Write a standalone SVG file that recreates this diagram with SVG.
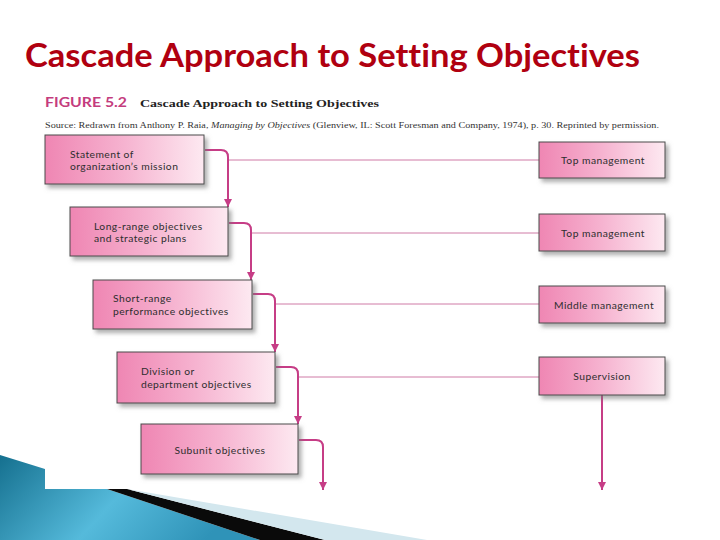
<svg xmlns="http://www.w3.org/2000/svg" width="720" height="540" viewBox="0 0 720 540">
<defs>
<linearGradient id="boxg" x1="0" y1="0" x2="1" y2="0">
<stop offset="0" stop-color="#ef86b3"/>
<stop offset="0.5" stop-color="#f6b3d0"/>
<stop offset="1" stop-color="#fde9f1"/>
</linearGradient>
<linearGradient id="blueg" x1="0" y1="0" x2="1" y2="0.3">
<stop offset="0" stop-color="#15708f"/>
<stop offset="0.55" stop-color="#55badb"/>
<stop offset="1" stop-color="#2f93b8"/>
</linearGradient>
<filter id="sh" x="-10%" y="-20%" width="130%" height="150%">
<feDropShadow dx="3" dy="3.5" stdDeviation="2" flood-color="#777" flood-opacity="0.6"/>
</filter>
<marker id="ah" viewBox="0 0 10 10" refX="10" refY="5" markerWidth="8" markerHeight="8" markerUnits="userSpaceOnUse" orient="auto">
<path d="M0,0 L10,5 L0,10 z" fill="#c63d86"/>
</marker>
<style>
.box{fill:url(#boxg);stroke:#4a4a4a;stroke-width:1;filter:url(#sh)}
.lbl{font-family:Lato,"Open Sans",sans-serif;font-size:10.3px;fill:#2e2e2e;letter-spacing:0.45px;font-variant-ligatures:none}
.cas{fill:none;stroke:#c63d86;stroke-width:2}
.hl{fill:none;stroke:#cf7ba6;stroke-width:1}
</style>
</defs>
<rect width="720" height="540" fill="#ffffff"/>
<g id="decoration">
<polygon points="0,455 45,469 45,489 107,489 260,540 0,540" fill="url(#blueg)"/>
<polygon points="107,489 127,489 325,540 260,540" fill="#0a0a0a"/>
<polygon points="127,489 427,540 325,540" fill="#d3e7ee"/>
</g>
<text x="25" y="67" font-family="Lato,'Open Sans',sans-serif" font-size="32" font-weight="bold" fill="#b00010" textLength="615" lengthAdjust="spacingAndGlyphs" style="font-variant-ligatures:none">Cascade Approach to Setting Objectives</text>
<text x="45" y="107" font-family="Lato,'Open Sans',sans-serif" font-size="12.5" font-weight="bold" fill="#c43c7e" textLength="82" lengthAdjust="spacingAndGlyphs">FIGURE 5.2</text>
<text x="140" y="107" font-family="'Liberation Serif',serif" font-size="11" font-weight="bold" fill="#222" textLength="239" lengthAdjust="spacingAndGlyphs">Cascade Approach to Setting Objectives</text>
<text x="45" y="128" font-family="'Liberation Serif',serif" font-size="8.3" fill="#333" textLength="614" lengthAdjust="spacingAndGlyphs">Source: Redrawn from Anthony P. Raia, <tspan font-style="italic">Managing by Objectives</tspan> (Glenview, IL: Scott Foresman and Company, 1974), p. 30. Reprinted by permission.</text>
<g id="connectors">
<path class="hl" d="M228,160 H539"/>
<path class="hl" d="M251,233 H539"/>
<path class="hl" d="M275,304 H539"/>
<path class="hl" d="M298,377 H539"/>
<path class="cas" d="M205,150 H221 Q228,150 228,157 V207" marker-end="url(#ah)"/>
<path class="cas" d="M229,223 H244 Q251,223 251,230 V280" marker-end="url(#ah)"/>
<path class="cas" d="M253,294 H268 Q275,294 275,301 V352" marker-end="url(#ah)"/>
<path class="cas" d="M276,367 H291 Q298,367 298,374 V424" marker-end="url(#ah)"/>
<path class="cas" d="M299,440 H316 Q323,440 323,447 V490" marker-end="url(#ah)"/>
<path class="cas" d="M602,395 V490" stroke-width="1.5" marker-end="url(#ah)"/>
</g>
<g id="n1"><rect class="box" x="45" y="135" width="159" height="49"/>
<text class="lbl" x="70" y="158">Statement of</text><text class="lbl" x="70" y="170">organization’s mission</text></g>
<g id="n2"><rect class="box" x="70" y="207" width="158" height="49"/>
<text class="lbl" x="94" y="230">Long-range objectives</text><text class="lbl" x="94" y="242">and strategic plans</text></g>
<g id="n3"><rect class="box" x="93" y="280" width="159" height="49"/>
<text class="lbl" x="113" y="302">Short-range</text><text class="lbl" x="113" y="315">performance objectives</text></g>
<g id="n4"><rect class="box" x="117" y="352" width="158" height="51"/>
<text class="lbl" x="141" y="375">Division or</text><text class="lbl" x="141" y="388">department objectives</text></g>
<g id="n5"><rect class="box" x="141" y="424" width="157" height="50"/>
<text class="lbl" x="220" y="454" text-anchor="middle">Subunit objectives</text></g>
<g id="r1"><rect class="box" x="539" y="142" width="126" height="36"/>
<text class="lbl" x="603" y="164" text-anchor="middle">Top management</text></g>
<g id="r2"><rect class="box" x="539" y="214" width="126" height="37"/>
<text class="lbl" x="603" y="237" text-anchor="middle">Top management</text></g>
<g id="r3"><rect class="box" x="539" y="286" width="126" height="37"/>
<text class="lbl" x="604" y="309" text-anchor="middle">Middle management</text></g>
<g id="r4"><rect class="box" x="539" y="357" width="126" height="38"/>
<text class="lbl" x="602" y="380" text-anchor="middle">Supervision</text></g>
</svg>
